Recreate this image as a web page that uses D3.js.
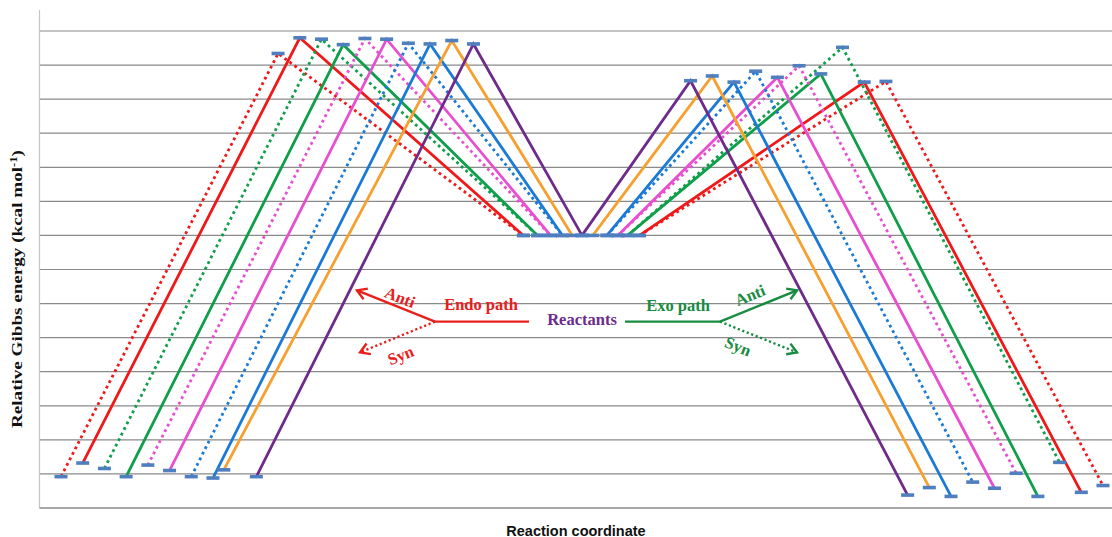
<!DOCTYPE html>
<html><head><meta charset="utf-8">
<script src="https://cdn.jsdelivr.net/npm/d3@7/dist/d3.min.js"></script>
<style>html,body{margin:0;padding:0;background:#fff}svg{display:block}</style>
</head><body><div id="chart"></div>
<script>
// ---------- DATA ----------
const seriesNames = ["Red syn","Red anti","Green syn","Green anti","Pink syn","Pink anti","Blue syn","Blue anti","Orange","Purple"];
const seriesDotted = [true,false,true,false,true,false,true,false,false,false];
// endo (left) side
const endoProductX = [0,2,4,6,8,10,12,14,15,18];
const endoProductE = [-35.4,-33.4,-34.2,-35.4,-33.7,-34.5,-35.4,-35.6,-34.4,-35.4];
const endoTSX = [20,22,24,26,28,30,32,34,36,38];
const endoTSE = [26.7,29.0,28.8,28.0,28.9,28.8,28.2,28.1,28.6,28.1];
const reactLeftX = [42.6,42.6,43.9,43.9,45.1,45.1,46.2,46.2,47.1,48.0];
// exo (right) side
const reactRightX = [53.3,53.3,52.2,52.2,51.3,51.3,50.3,50.3,49.0,48.0];
const exoTSX = [76,74,72,70,68,66,64,62,60,58];
const exoTSE = [22.6,22.5,27.6,23.7,24.9,23.2,24.1,22.5,23.4,22.7];
const exoProductX = [96,94,92,90,88,86,84,82,80,78];
const exoProductE = [-36.7,-37.7,-33.3,-38.3,-34.9,-37.1,-36.2,-38.3,-37.0,-38.1];
const reactantE = 0;
const gridTicks = [-35,-30,-25,-20,-15,-10,-5,0,5,10,15,20,25,30];

// ---------- STYLE ----------
const seriesColors = ["#f01818","#f01818","#0f9e4a","#0f9e4a","#e84fd0","#e84fd0","#1a7ad6","#1a7ad6","#f5a030","#6e2b8c"];
const markerColor = "#4f7fbf";

const W = 1112, H = 537;
const svg = d3.select("#chart").append("svg").attr("width", W).attr("height", H);

const x = d3.scaleLinear().domain([0, 96]).range([61, 1103]);
const y = d3.scaleLinear().domain([-40, 30]).range([508, 31]);
const plotLeft = 39.5, plotRight = 1112;

// gridlines
svg.append("g").selectAll("line").data(gridTicks).join("line")
  .attr("x1", plotLeft).attr("x2", plotRight)
  .attr("y1", d => y(d)).attr("y2", d => y(d))
  .attr("stroke", "#8a8a8a").attr("stroke-width", 1.2);
// vertical axis
svg.append("line").attr("x1", plotLeft).attr("x2", plotLeft)
  .attr("y1", y(33.1)).attr("y2", y(-40))
  .attr("stroke", "#c4c4c4").attr("stroke-width", 1.2);
// bottom axis
svg.append("line").attr("x1", plotLeft).attr("x2", plotRight)
  .attr("y1", y(-40)).attr("y2", y(-40))
  .attr("stroke", "#a8a8a8").attr("stroke-width", 2.2);

// series
const line = d3.line().x(d => x(d[0])).y(d => y(d[1]));
const gLines = svg.append("g");
seriesNames.forEach((n, i) => {
  const left = [[endoProductX[i], endoProductE[i]], [endoTSX[i], endoTSE[i]], [reactLeftX[i], reactantE]];
  const right = [[reactRightX[i], reactantE], [exoTSX[i], exoTSE[i]], [exoProductX[i], exoProductE[i]]];
  [left, right].forEach(pts => {
    gLines.append("path").attr("d", line(pts))
      .attr("fill", "none").attr("stroke", seriesColors[i])
      .attr("stroke-width", 2.8)
      .attr("stroke-linejoin", "miter")
      .attr("stroke-dasharray", seriesDotted[i] ? "2.8 3.4" : null);
  });
});
// markers
const markerPts = [];
seriesNames.forEach((n, i) => {
  markerPts.push([endoProductX[i], endoProductE[i]], [endoTSX[i], endoTSE[i]], [reactLeftX[i], reactantE],
                 [reactRightX[i], reactantE], [exoTSX[i], exoTSE[i]], [exoProductX[i], exoProductE[i]]);
});
svg.append("g").selectAll("rect").data(markerPts).join("rect")
  .attr("x", d => x(d[0]) - 6.5).attr("y", d => y(d[1]) - 1.8)
  .attr("width", 13).attr("height", 3.6).attr("fill", markerColor);

// ---------- annotations ----------
const red = "#e8201c", green = "#178c40", purple = "#6b2c8a";
const ann = svg.append("g");
const endoStart = [34.46, -12.65], endoEnd = [43.12, -12.65];
const exoStart = [51.96, -12.65], exoEnd = [60.71, -12.65];
const endoAntiTip = [27.27, -8.07], endoSynTip = [27.55, -17.17];
const exoAntiTip = [67.81, -8.07], exoSynTip = [67.81, -17.17];

function seg(a, b, color, dotted) {
  ann.append("line").attr("x1", x(a[0])).attr("y1", y(a[1])).attr("x2", x(b[0])).attr("y2", y(b[1]))
    .attr("stroke", color).attr("stroke-width", 2.4)
    .attr("stroke-dasharray", dotted ? "2.2 2.6" : null);
}
function arrowHead(from, tip, color) {
  const x0 = x(from[0]), y0 = y(from[1]), x1 = x(tip[0]), y1 = y(tip[1]);
  const ang = Math.atan2(y1 - y0, x1 - x0), L = 11, a = 0.55;
  const p1 = [x1 - L * Math.cos(ang - a), y1 - L * Math.sin(ang - a)];
  const p2 = [x1 - L * Math.cos(ang + a), y1 - L * Math.sin(ang + a)];
  ann.append("path").attr("d", `M${p1[0]},${p1[1]}L${x1},${y1}L${p2[0]},${p2[1]}`)
    .attr("fill", "none").attr("stroke", color).attr("stroke-width", 2.4);
}
seg(endoStart, endoEnd, red, false);
seg(endoStart, endoAntiTip, red, false); arrowHead(endoStart, endoAntiTip, red);
seg(endoStart, endoSynTip, red, true); arrowHead(endoStart, endoSynTip, red);
seg(exoStart, exoEnd, green, false);
seg(exoEnd, exoAntiTip, green, false); arrowHead(exoEnd, exoAntiTip, green);
seg(exoEnd, exoSynTip, green, true); arrowHead(exoEnd, exoSynTip, green);

function label(txt, pos, color, rot, size) {
  ann.append("text").attr("transform", `translate(${x(pos[0])},${y(pos[1])}) rotate(${rot})`)
    .attr("text-anchor", "middle").attr("dominant-baseline", "central")
    .attr("font-family", "'Liberation Serif','Times New Roman',serif").attr("font-weight", "bold")
    .attr("font-size", size).attr("fill", color).text(txt);
}
label("Endo path", [38.7, -10.1], red, 0, 16.5);
label("Reactants", [48.0, -12.3], purple, 0, 16.5);
label("Exo path", [56.85, -10.3], green, 0, 16.5);
label("Anti", [31.23, -9.1], red, 21.7, 16.5);
label("Syn", [31.3, -17.6], red, -22, 16.5);
label("Anti", [63.48, -8.8], green, -22, 16.5);
label("Syn", [62.37, -16.3], green, 22, 16.5);

// axis titles
svg.append("text").attr("x", 576).attr("y", 535.5).attr("text-anchor", "middle")
  .attr("font-family", "'Liberation Sans',Arial,sans-serif").attr("font-weight", "bold")
  .attr("font-size", 14.5).attr("fill", "#111").text("Reaction coordinate");

const yl = svg.append("text")
  .attr("font-family", "'Liberation Serif','Times New Roman',serif").attr("font-weight", "bold")
  .attr("font-size", 14.5).attr("fill", "#111");
yl.append("tspan").text("Relative Gibbs energy (kcal mol");
yl.append("tspan").attr("font-size", 9.5).attr("dy", -5.5).text("-1");
yl.append("tspan").attr("dy", 5.5).text(")");
const len = yl.node().getComputedTextLength();
const sx = 278 / len;
yl.attr("transform", `translate(22,${289}) rotate(-90) scale(${sx},1) translate(${-len / 2},0)`);
</script></body></html>
